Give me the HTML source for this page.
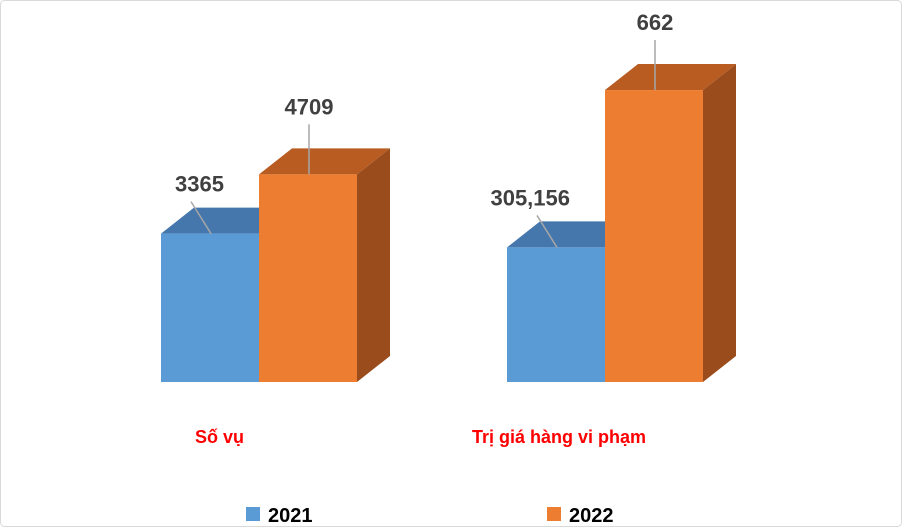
<!DOCTYPE html>
<html><head><meta charset="utf-8">
<style>
html,body{margin:0;padding:0;background:#fff;}
#wrap{width:902px;height:527px;position:relative;overflow:hidden;}
svg{position:absolute;left:0;top:0;}
text{font-family:"Liberation Sans",sans-serif;font-weight:bold;}
</style></head>
<body>
<div id="wrap">
<svg id="chart" width="902" height="527">
<rect x="0.5" y="0.5" width="901" height="526" rx="4" fill="#fff" stroke="#d9d9d9"/>
</svg>
</div>
<script>
const categories = ["Số vụ", "Trị giá hàng vi phạm"];
const series2021 = [336.5, 305.156];
const series2022 = [470.9, 662];
const labels2021 = ["3365", "305,156"];
const labels2022 = ["4709", "662"];
const seriesNames = ["2021", "2022"];

const svg = document.getElementById('chart');
const NS = 'http://www.w3.org/2000/svg';
const baseY = 382, scale = 0.441, barW = 98, dx = 33, dy = -26;
const groupX = [161, 507];
function y(v){ return baseY - v*scale; }
function mk(tag, attrs){ const e=document.createElementNS(NS,tag); for(const k in attrs) e.setAttribute(k,attrs[k]); svg.appendChild(e); return e; }

const colors = [
  {front:'#5B9BD5', top:'#4677AC', side:'#3C6A99'},
  {front:'#ED7D31', top:'#B85C22', side:'#9A4C1C'}
];
const data = [series2021, series2022];
const lbls = [labels2021, labels2022];

categories.forEach((cat, ci) => {
  for (let s = 0; s < 2; s++) {
    const v = data[s][ci];
    const x0 = groupX[ci] + s*barW, x1 = x0 + barW, yt = y(v);
    const c = colors[s];
    const side = mk('polygon', {points:`${x1},${yt} ${x1+dx},${yt+dy} ${x1+dx},${baseY+dy} ${x1},${baseY}`, fill:c.side});
    
    
    const top = mk('polygon', {points:`${x0},${yt} ${x0+dx},${yt+dy} ${x1+dx},${yt+dy} ${x1},${yt}`, fill:c.top});
    
    
    const front = mk('rect', {x:x0, y:yt, width:barW, height:baseY-yt, fill:c.front});
    
    
  }
  for (let s = 0; s < 2; s++) {
    const v = data[s][ci];
    const x0 = groupX[ci] + s*barW, yt = y(v);
    let lx, ly, tx, ty;
    if (s === 0) { lx = x0 + 50; ly = yt; tx = x0 + 18; ty = yt - 42; }
    else { lx = x0 + 50; ly = yt; tx = x0 + 50; ty = yt - 60; }
    const line = mk('line', {x1:lx, y1:ly, x2: s===0 ? tx+12 : tx, y2: ty+10, stroke:'#a6a6a6', 'stroke-width':1.5});
    
    
    const t = mk('text', {x: s===0 ? tx : tx, y: ty, 'font-size':22, fill:'#404040', 'text-anchor': s===0 ? 'end' : 'middle'});
    if (s===0) t.setAttribute('x', tx + 45);
    t.textContent = lbls[s][ci];
    
    
  }
  const cl = mk('text', {x: ci===0 ? 195 : 472, y: 443, 'font-size':18, fill:'#FF0000'});
  cl.textContent = cat;
  
  
});

const legX = [246, 547];
seriesNames.forEach((n, i) => {
  const r = mk('rect', {x:legX[i], y:507, width:14, height:14, fill:colors[i].front});
  
  
  const t = mk('text', {x:legX[i]+22, y:522, 'font-size':20, fill:'#000'});
  t.textContent = n;
  
  
});
</script>
</body></html>
